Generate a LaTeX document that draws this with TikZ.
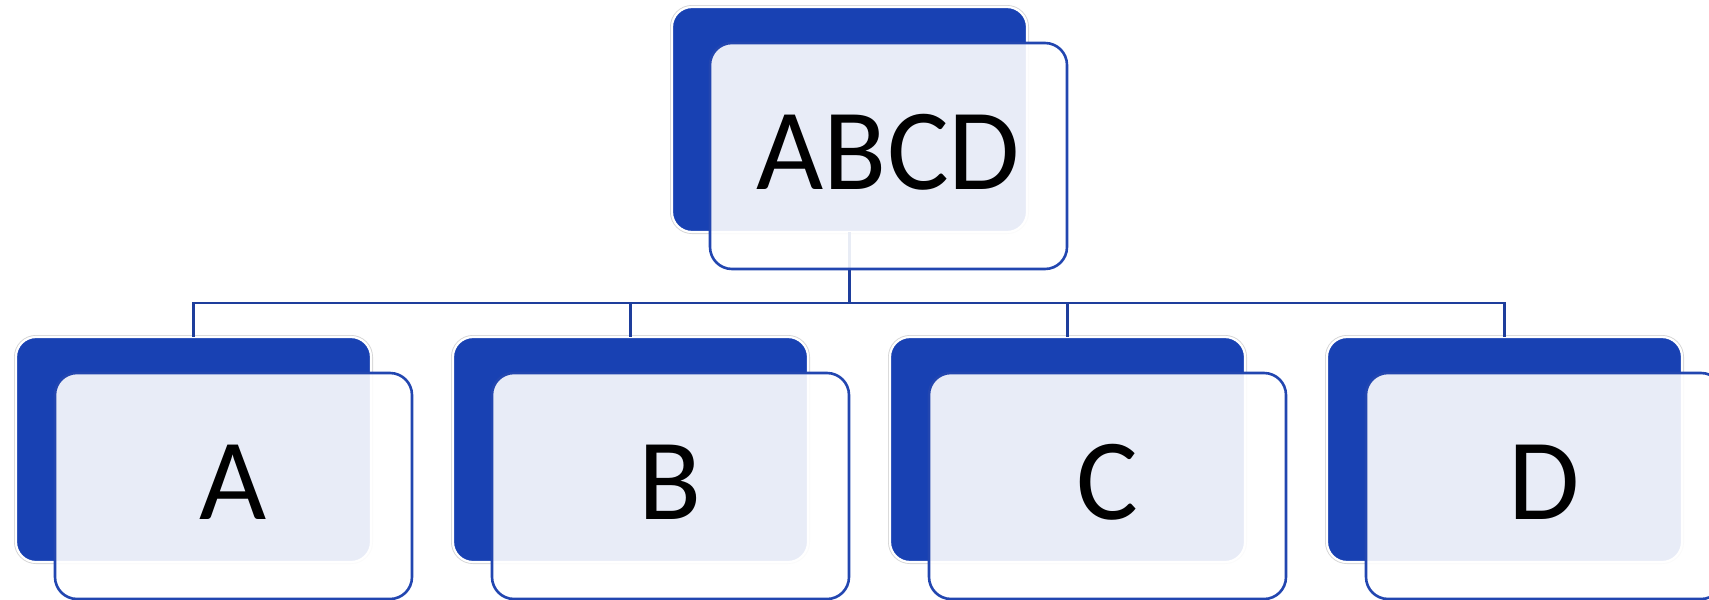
\documentclass[tikz,border=0pt]{standalone}
\usepackage{fontspec}
\setmainfont{Carlito}
\definecolor{nodeblue}{RGB}{24,65,179}
\definecolor{edgeblue}{RGB}{34,70,176}
\definecolor{connblue}{RGB}{30,62,156}
\begin{document}
\begin{tikzpicture}[x=1pt,y=-1pt,
  backbox/.style={rectangle, anchor=north west, inner sep=0pt, outer sep=0pt,
    minimum width=355pt, minimum height=225pt, rounded corners=20pt,
    fill=nodeblue, draw=white, line width=2.2pt,
    preaction={draw=black!16, line width=4pt}},
  frontbox/.style={rectangle, anchor=north west, inner sep=0pt, outer sep=0pt,
    minimum width=357pt, minimum height=226pt, rounded corners=22pt,
    fill=white, fill opacity=0.9, text opacity=1, draw=edgeblue, draw opacity=1,
    line width=2.6pt, font=\fontsize{116}{116}\selectfont},
  lbl/.style={font=\fontsize{116}{116}\selectfont, inner sep=0pt, yshift=3.5pt}]
  \tikzset{conn/.style={draw=connblue, line width=2.6pt}}
\useasboundingbox (0,0) rectangle (1709,600);
\clip (0,0) rectangle (1709,600);
% back boxes
\node[backbox] (tb) at (672,7) {};
\node[backbox] (ab) at (16,337) {};
\node[backbox] (bb) at (453,337) {};
\node[backbox] (cb) at (890,337) {};
\node[backbox] (db) at (1327,337) {};
% connectors
\foreach \n in {ab,bb,cb,db}{
  \draw[conn] (tb.south) -- ++(0,71) -| (\n.north);
}
% front boxes
\node[frontbox] (top) at (710,43) {};
\node[frontbox] (a) at (55,373) {};
\node[frontbox] (b) at (492,373) {};
\node[frontbox] (c) at (929,373) {};
\node[frontbox] (d) at (1366,373) {};
% labels
\node[lbl] (ttop) at (top.center) {ABCD};
\node[lbl] (ta) at (a.center) {A};
\node[lbl] (tb2) at (b.center) {B};
\node[lbl] (tc) at (c.center) {C};
\node[lbl] (td) at (d.center) {D};
\end{tikzpicture}
\end{document}
